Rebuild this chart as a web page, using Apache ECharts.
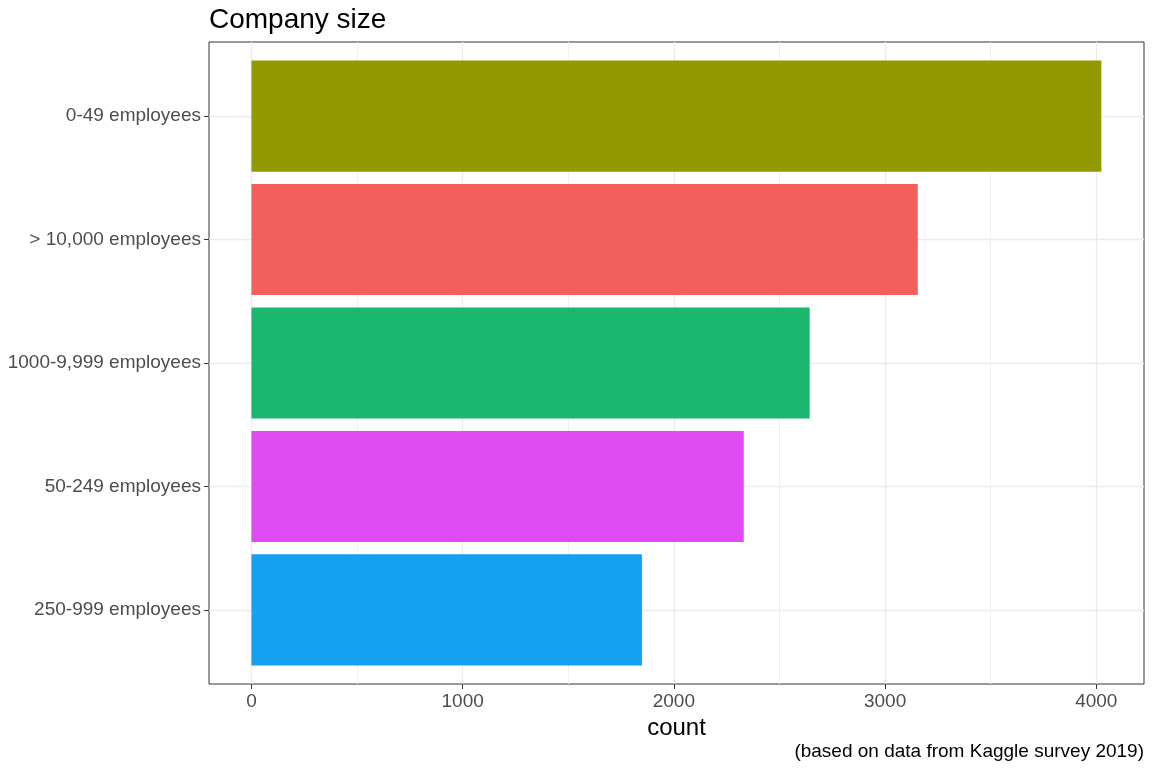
<!DOCTYPE html>
<html>
<head>
<meta charset="utf-8">
<script src="https://cdn.jsdelivr.net/npm/echarts@6/dist/echarts.min.js"></script>
<style>
  html, body { margin: 0; padding: 0; background: #fff; }
  #root { width: 1152px; height: 768px; }
</style>
</head>
<body>
<div id="root"></div>
<script>
  // data, top to bottom as in the picture
  const categories = ['0-49 employees', '> 10,000 employees', '1000-9,999 employees', '50-249 employees', '250-999 employees']
  const counts = [4024, 3155, 2643, 2331, 1849]
  const barColors = ['#939900', '#F35F5B', '#1AB86F', '#DF4BF2', '#16A0F2']
  const majorTicks = [0, 1000, 2000, 3000, 4000]
  const minorTicks = [500, 1500, 2500, 3500]
  const rowPositions = [1, 2, 3, 4, 5]

  const xMin = -201
  const xMax = 4226
  const font = 'Liberation Sans, Arial, Helvetica, sans-serif'

  const chart = echarts.init(document.getElementById('root'))

  const option = {
    animation: false,
    title: [
      {
        text: 'Company size',
        left: 209, top: 6, padding: 0,
        textStyle: { fontFamily: font, fontSize: 28, fontWeight: 'normal', color: '#000' }
      },
      {
        text: '(based on data from Kaggle survey 2019)',
        right: 8, top: 742, padding: 0,
        textStyle: { fontFamily: font, fontSize: 19, fontWeight: 'normal', color: '#000' }
      }
    ],
    grid: [
      // panel: border, gridlines, x axis
      { left: 209, right: 8, top: 42, bottom: 84, show: true, borderColor: '#333', borderWidth: 1, backgroundColor: '#fff' },
      // bars: category rows, expansion 0.6 each side like ggplot
      { left: 209, right: 8, top: 42 + 643 * 0.1 / 5.2, bottom: 84 + 643 * 0.1 / 5.2 }
    ],
    xAxis: [
      {
        gridIndex: 0, type: 'value', min: xMin, max: xMax, position: 'bottom',
        name: 'count', nameLocation: 'middle', nameGap: 28,
        nameTextStyle: { fontFamily: font, fontSize: 24, color: '#000' },
        axisLine: { show: false, onZero: false },
        axisTick: { show: true, customValues: majorTicks, length: 5, lineStyle: { color: '#333' } },
        axisLabel: { customValues: majorTicks, formatter: v => String(v), fontFamily: font, fontSize: 19, color: '#4D4D4D', margin: 8 },
        splitLine: { show: true, lineStyle: { color: '#EBEBEB', width: 1.3 } }
      },
      {
        gridIndex: 0, type: 'value', min: xMin, max: xMax, position: 'top',
        axisLine: { show: false, onZero: false },
        axisTick: { show: false, customValues: minorTicks },
        axisLabel: { show: false },
        splitLine: { show: true, lineStyle: { color: '#F0F0F0', width: 1 } }
      },
      {
        gridIndex: 1, type: 'value', min: xMin, max: xMax,
        show: false
      }
    ],
    yAxis: [
      {
        gridIndex: 0, type: 'value', min: 0.4, max: 5.6, inverse: true,
        axisLine: { show: false, onZero: false },
        axisTick: { show: false, customValues: rowPositions },
        axisLabel: { show: false },
        splitLine: { show: true, lineStyle: { color: '#EBEBEB', width: 1.3 } }
      },
      {
        gridIndex: 1, type: 'category', data: categories, inverse: true,
        axisLine: { show: false, onZero: false },
        axisTick: { show: true, alignWithLabel: true, length: 5, lineStyle: { color: '#333' } },
        axisLabel: { fontFamily: font, fontSize: 19, color: '#4D4D4D', margin: 8 },
        splitLine: { show: false }
      }
    ],
    series: [
      {
        type: 'bar',
        xAxisIndex: 2,
        yAxisIndex: 1,
        barWidth: '90%',
        data: counts.map((v, i) => ({ value: v, itemStyle: { color: barColors[i] } })),
        z: 3
      }
    ]
  }

  chart.setOption(option)
</script>
</body>
</html>
